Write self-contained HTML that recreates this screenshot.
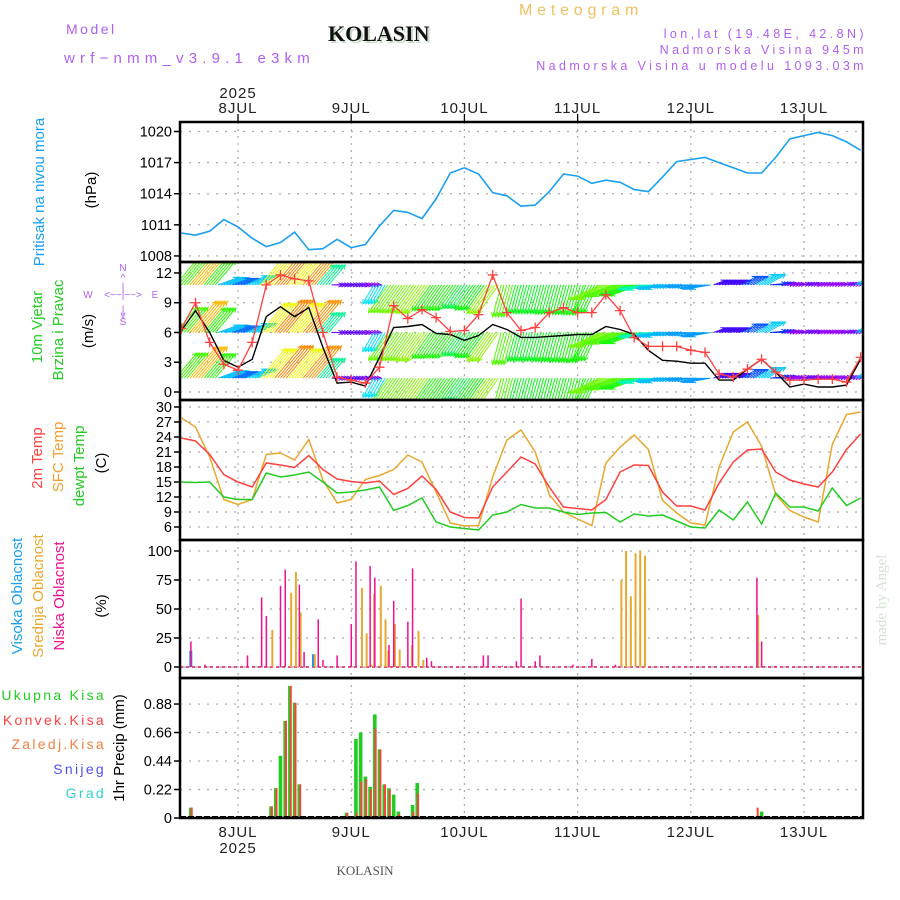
<!DOCTYPE html>
<html><head><meta charset="utf-8"><style>
html,body{margin:0;padding:0;background:#fff;}
svg{display:block;font-family:"Liberation Sans",sans-serif;}
</style></head><body>
<svg id="chart" width="900" height="900" viewBox="0 0 900 900" xmlns="http://www.w3.org/2000/svg">
<g>
<text x="66" y="34" letter-spacing="2.5" font-size="14" fill="#b060f0">Model</text>
<text x="64" y="63" letter-spacing="5.2" font-size="15" fill="#b060f0">wrf−nmm_v3.9.1 e3km</text>
<text x="330" y="43" font-family="Liberation Serif,serif" font-weight="bold" font-size="22" fill="#c8d8c8">KOLASIN</text>
<text x="328" y="41" font-family="Liberation Serif,serif" font-weight="bold" font-size="22" fill="#111">KOLASIN</text>
<text x="519" y="15" letter-spacing="4.8" font-size="16" fill="#f0c060">Meteogram</text>
<text x="867" y="38" text-anchor="end" letter-spacing="3.4" font-size="12.5" fill="#b060f0">lon,lat (19.48E, 42.8N)</text>
<text x="867" y="54" text-anchor="end" letter-spacing="3.4" font-size="12.5" fill="#b060f0">Nadmorska Visina 945m</text>
<text x="867" y="70" text-anchor="end" letter-spacing="3.4" font-size="12.5" fill="#b060f0">Nadmorska Visina u modelu 1093.03m</text>
</g>
<g font-size="15">
<text transform="translate(44,192) rotate(-90)" text-anchor="middle" fill="#1aa0f0">Pritisak na nivou mora</text>
<text transform="translate(96,190) rotate(-90)" text-anchor="middle" fill="#000">(hPa)</text>
<text transform="translate(42,327) rotate(-90)" text-anchor="middle" fill="#22cc22">10m Vjetar</text>
<text transform="translate(63,330) rotate(-90)" text-anchor="middle" fill="#22cc22">Brzina i Pravac</text>
<text transform="translate(93,331) rotate(-90)" text-anchor="middle" fill="#000">(m/s)</text>
<g font-size="10" fill="#b060f0" text-anchor="middle">
<text x="88" y="298">W</text><text x="123" y="298">&lt;−−|−−&gt;</text><text x="155" y="298">E</text>
<text x="123" y="271">N</text><text x="123" y="281">^</text><text x="123" y="290">|</text><text x="123" y="313">|</text><text x="123" y="318">v</text><text x="123" y="325">S</text>
</g>
<text transform="translate(42,458) rotate(-90)" text-anchor="middle" fill="#ff4040">2m Temp</text>
<text transform="translate(63,457) rotate(-90)" text-anchor="middle" fill="#f0a030">SFC Temp</text>
<text transform="translate(84,466) rotate(-90)" text-anchor="middle" fill="#22cc22">dewpt Temp</text>
<text transform="translate(106,463) rotate(-90)" text-anchor="middle" fill="#000">(C)</text>
<text transform="translate(22,596) rotate(-90)" text-anchor="middle" fill="#1aa0f0">Visoka Oblacnost</text>
<text transform="translate(43,596) rotate(-90)" text-anchor="middle" fill="#e8a830">Srednja Oblacnost</text>
<text transform="translate(64,596) rotate(-90)" text-anchor="middle" fill="#ee1090">Niska Oblacnost</text>
<text transform="translate(106,606) rotate(-90)" text-anchor="middle" fill="#000">(%)</text>
<g text-anchor="end" letter-spacing="2.3" font-size="14">
<text x="106" y="700" fill="#22cc22">Ukupna Kisa</text>
<text x="106" y="725" fill="#ff4040">Konvek.Kisa</text>
<text x="106" y="749" fill="#f08040">Zaledj.Kisa</text>
<text x="106" y="774" fill="#5050f0">Snijeg</text>
<text x="106" y="798" fill="#30d0d0">Grad</text>
</g>
<text transform="translate(124,748) rotate(-90)" text-anchor="middle" fill="#000">1hr Precip (mm)</text>
</g>
<text transform="translate(886,600) rotate(-90)" text-anchor="middle" font-family="Liberation Serif,serif" font-size="15" fill="#d4e2d4">made by Angel</text>
<text x="365" y="875" text-anchor="middle" font-family="Liberation Serif,serif" font-size="13" fill="#555">KOLASIN</text>
<g id="plots"></g>
</svg>
<script>
// ---- data (hours from 8 JUL 00 UTC) ----
const dayHours = [0, 24, 48, 72, 96, 120];
const dayLabels = ["8JUL", "9JUL", "10JUL", "11JUL", "12JUL", "13JUL"];
const hours3 = Array.from({length: 49}, (_, i) => -12 + 3 * i);
const pressure = [1010.2,1010.0,1010.4,1011.5,1010.8,1009.7,1008.9,1009.3,1010.3,1008.6,1008.7,1009.6,1008.8,1009.1,1010.9,1012.4,1012.2,1011.6,1013.5,1016.0,1016.5,1015.9,1014.1,1013.8,1012.8,1012.9,1014.2,1015.9,1015.7,1015.0,1015.3,1015.1,1014.4,1014.2,1015.6,1017.1,1017.3,1017.5,1017.0,1016.5,1016.0,1016.0,1017.5,1019.3,1019.6,1019.9,1019.6,1019.0,1018.2];
const windSpeed = [6.2,8.2,6,3.2,2.5,3.3,7.6,8.6,7.6,8.5,4.5,0.9,1.0,0.6,3.5,6.5,6.6,6.8,5.9,5.8,5.2,5.7,6.8,6.3,5.5,5.5,5.6,5.7,5.8,5.8,6.6,6.3,5.8,4.2,3.2,3.1,2.9,2.9,1.2,1.2,2.3,3.3,2.0,0.5,0.8,0.5,0.5,0.7,3.3];
const windGust = [6.4,9,5,2.8,2.2,5,10.8,11.8,11.4,11.2,6,1.5,1.2,0.9,2.5,8.7,7.4,8.3,7.5,6.1,6.2,7.8,11.8,8,6.2,6.5,8,8.5,8,8,9.8,8.2,5.5,4.6,4.6,4.6,4.2,4,1.8,1.5,2.3,3.3,2,1.2,1.2,1.3,1.3,1.0,3.5];
const windDir = [50,50,50,20,20,25,50,50,50,50,50,0,0,0,-120,-125,-125,-125,-125,-125,-125,-125,-125,-105,-105,-105,-105,-105,-105,-115,-155,-160,-160,-170,-170,-175,-175,-170,20,20,30,30,5,5,5,5,5,5,30];
const temp2m = [23.8,23.2,20.5,16.5,15,14,18.8,18.4,17.9,20.3,17.5,15.6,15.1,14.8,15.2,12.5,13.7,16.2,13.5,9,7.9,7.8,14,17,20,18.6,14,10,9.7,9.4,11.5,17,18.4,18.3,13,10.2,10.2,9.4,14.8,19,21.4,21.6,17,15.4,14.6,14,17,21.5,24.6];
const tempSfc = [27.8,26,20,11.5,10.5,11.5,20.5,20.8,19.4,23.5,15.4,10.8,11.5,15.5,16.3,17.5,20.4,19,13,6.8,6.2,6.3,16,23.4,25.4,21,12.5,9,7.6,6.3,18.8,22,24.4,21.5,11.3,8.8,6.8,6.4,18,25,27,22.2,12.5,9.3,8,7,22.5,28.5,29];
const dewpt = [15,14.9,15,12,11.5,11.5,16.8,16,16.4,17,15,12.8,13,13.4,14,9.3,10.3,11.8,7,6,5.7,5.4,8.4,9,10.5,9.8,9.8,9,8.5,8.8,8.9,7,8.6,8.2,8.4,7.2,6,5.8,9.4,7.4,11,6.6,12.8,10,10,9.2,13.8,10.3,11.8];
const lowCloudHours = [-10,-7,2,5,6,9,10,13,14,17,18,21,24,25,28,29,32,33,36,37,40,41,52,53,56,59,60,63,64,71,75,80,110,111,114];
const lowCloud = [22,2,10,60,44,70,84,71,13,41,6,10,37,91,87,77,19,57,39,85,8,5,10,10,1,5,59,5,10,2,7,2,77,22,1];
const midCloudHours = [7,11,12,13,16,26,27,28,28.6,30,31,31.6,33,34,36.6,38,39,81,82,83,84,85,86,110];
const midCloud = [32,64,82,47,11,68,29,2,63,70,41,14,37,15,19,31,6,75,100,61,98,100,96,45];
const highCloudHours = [-10,16];
const highCloud = [14,11];
const precipHours = [-10,7,8,9,10,11,12,13,16,23,25,26,27,28,29,30,31,32,33,34,37,38,110,111];
const precipTotal = [0.08,0.09,0.23,0.48,0.75,1.02,0.89,0.26,0.01,0.04,0.61,0.66,0.32,0.24,0.80,0.53,0.26,0.23,0.18,0.05,0.10,0.27,0.0,0.05];
const precipConv = [0.08,0.09,0.23,0.0,0.75,1.02,0.89,0.26,0.0,0.04,0.04,0.28,0.30,0.22,0.69,0.53,0.26,0.22,0.0,0.03,0.05,0.19,0.08,0.0];
const pTicks = [1008,1011,1014,1017,1020];
const wTicks = [0,3,6,9,12];
const tTicks = [6,9,12,15,18,21,24,27,30];
const cTicks = [0,25,50,75,100];
const prTicks = [0,0.22,0.44,0.66,0.88];
const prTickLabels = ["0","0.22","0.44","0.66","0.88"];

// ---- layout ----
const X0 = 180, X1 = 863;
const NS = "http://www.w3.org/2000/svg";
const root = document.getElementById('plots');
const xT = h => 238 + h * 4.717;
const yP = p => 131.5 + (1020 - p) * 10.37;
const yW = v => 392 - v * 9.92;
const yTm = t => 527 - (t - 6) * 5;
const yC = c => 667 - c * 1.16;
const yPr = m => 818 - m * 129.5;
const panels = [
  {name:'pressure', top:122, bot:262, y:yP, ticks:pTicks, labels:pTicks.map(String)},
  {name:'wind', top:262, bot:400, y:yW, ticks:wTicks, labels:wTicks.map(String)},
  {name:'temperature', top:400, bot:540, y:yTm, ticks:tTicks, labels:tTicks.map(String)},
  {name:'cloud', top:540, bot:678, y:yC, ticks:cTicks, labels:cTicks.map(String)},
  {name:'precip', top:678, bot:818, y:yPr, ticks:prTicks, labels:prTickLabels}
];
function mk(tag, attrs, parent) {
  const e = document.createElementNS(NS, tag);
  for (const k in attrs) e.setAttribute(k, attrs[k]);
  (parent || root).appendChild(e);
  return e;
}
const defs = mk('defs', {});
panels.forEach(p => {
  const cp = mk('clipPath', {id: 'clip-' + p.name}, defs);
  mk('rect', {x: X0, y: p.top, width: X1 - X0, height: p.bot - p.top}, cp);
});

panels.forEach(p => {
  const g = mk('g', {});
  
  
  p.ticks.forEach((t, i) => {
    const y = p.y(t);
    mk('line', {x1: X0, x2: X1, y1: y, y2: y, stroke: '#aaa', 'stroke-width': 1.2, 'stroke-dasharray': '2 7'}, g);
    mk('line', {x1: X0 - 6, x2: X0, y1: y, y2: y, stroke: '#000', 'stroke-width': 1.5}, g);
    const tx = mk('text', {x: X0 - 8, y: y + 5, 'text-anchor': 'end', 'font-size': 14.5, fill: '#000'}, g);
    tx.textContent = p.labels[i];
    
    
  });
  dayHours.forEach(h => {
    mk('line', {x1: xT(h), x2: xT(h), y1: p.top, y2: p.bot, stroke: '#aaa', 'stroke-width': 1.2, 'stroke-dasharray': '2 5'}, g);
  });
});

const topAx = mk('g', {});


dayHours.forEach((h, i) => {
  mk('line', {x1: xT(h), x2: xT(h), y1: 114, y2: 122, stroke: '#000', 'stroke-width': 1.3}, topAx);
  const t1 = mk('text', {x: xT(h), y: 113, 'text-anchor': 'middle', 'font-size': 15, fill: '#222', 'letter-spacing': '1'}, topAx);
  t1.textContent = dayLabels[i];
  
  
  const t2 = mk('text', {x: xT(h), y: 837, 'text-anchor': 'middle', 'font-size': 15, fill: '#222', 'letter-spacing': '1'}, topAx);
  t2.textContent = dayLabels[i];
  
  
});
const y1 = mk('text', {x: xT(0), y: 98, 'text-anchor': 'middle', 'font-size': 15, fill: '#222', 'letter-spacing': '1'}, topAx);
y1.textContent = '2025';


const y2 = mk('text', {x: xT(0), y: 853, 'text-anchor': 'middle', 'font-size': 15, fill: '#222', 'letter-spacing': '1'}, topAx);
y2.textContent = '2025';



function linePath(xs, ys, yf) {
  return xs.map((h, i) => (i ? 'L' : 'M') + xT(h).toFixed(1) + ',' + yf(ys[i]).toFixed(1)).join('');
}
const pl = mk('path', {d: linePath(hours3, pressure, yP), fill: 'none', stroke: '#1aa0f0', 'stroke-width': 1.6, 'clip-path': 'url(#clip-pressure)'});



function hueFor(v) { return Math.max(0, Math.min(290, 290 - v * 30)); }
const wg = mk('g', {'clip-path': 'url(#clip-wind)'});


const rowBase = [1.4, 6.0, 10.8];
rowBase.forEach(b => {
  hours3.forEach((h, i) => {
    const v = windSpeed[i];
    const L = 8 + 4 * v;
    const a = windDir[i] * Math.PI / 180;
    const col = 'hsl(' + hueFor(v) + ',95%,50%)';
    [-1.2, -0.6, 0, 0.6, 1.2].forEach(o => {
      const x0 = xT(h + o), y0 = yW(b);
      const x1 = x0 + L * Math.cos(a), y1 = y0 - L * Math.sin(a);
      const hl = 5, ha = 0.45;
      const back = Math.atan2(y0 - y1, x0 - x1);
      const d = 'M' + x0.toFixed(1) + ',' + y0.toFixed(1) + 'L' + x1.toFixed(1) + ',' + y1.toFixed(1) +
        'M' + (x1 + hl * Math.cos(back + ha)).toFixed(1) + ',' + (y1 + hl * Math.sin(back + ha)).toFixed(1) + 'L' + x1.toFixed(1) + ',' + y1.toFixed(1) +
        'L' + (x1 + hl * Math.cos(back - ha)).toFixed(1) + ',' + (y1 + hl * Math.sin(back - ha)).toFixed(1);
      const ar = mk('path', {d: d, stroke: col, 'stroke-width': 1, fill: 'none'}, wg);
      
      
    });
  });
});
const ws = mk('path', {d: linePath(hours3, windSpeed, yW), fill: 'none', stroke: '#000', 'stroke-width': 1.4, 'clip-path': 'url(#clip-wind)'});


const gg = mk('g', {'clip-path': 'url(#clip-wind)'});


const gl = mk('path', {d: linePath(hours3, windGust, yW), fill: 'none', stroke: '#ff4040', 'stroke-width': 1.3}, gg);


hours3.forEach((h, i) => {
  const x = xT(h), y = yW(windGust[i]);
  const m = mk('path', {d: 'M' + (x - 5) + ',' + y + 'H' + (x + 5) + 'M' + x + ',' + (y - 5) + 'V' + (y + 5), stroke: '#ff4040', 'stroke-width': 1.3}, gg);
  
  
});

[[tempSfc, '#e8a830', 'sfc-temp-line'], [temp2m, '#ff4040', 'temp-2m-line'], [dewpt, '#22cc22', 'dewpoint-line']].forEach(s => {
  const l = mk('path', {d: linePath(hours3, s[0], yTm), fill: 'none', stroke: s[1], 'stroke-width': 1.5, 'clip-path': 'url(#clip-temperature)'});
  
  
});

const zc = mk('line', {x1: X0, x2: X1, y1: yC(0), y2: yC(0), stroke: '#e0508a', 'stroke-width': 2, 'stroke-dasharray': '3 3'});


mk('line', {x1: X0 + 3, x2: X1, y1: yC(0), y2: yC(0), stroke: '#c8c8c8', 'stroke-width': 2, 'stroke-dasharray': '3 9'});
highCloudHours.forEach((h, i) => {
  const b = mk('rect', {x: xT(h) - 1.5, y: yC(highCloud[i]), width: 3, height: yC(0) - yC(highCloud[i]), fill: '#1a90e8'});
  
  
});
midCloudHours.forEach((h, i) => {
  const b = mk('rect', {x: xT(h) + 0.3, y: yC(midCloud[i]), width: 2, height: yC(0) - yC(midCloud[i]), fill: '#e8a830'});
  
  
});
lowCloudHours.forEach((h, i) => {
  const b = mk('rect', {x: xT(h) - 0.7, y: yC(lowCloud[i]), width: 1.5, height: yC(0) - yC(lowCloud[i]), fill: '#ee1090'});
  
  
});

precipHours.forEach((h, i) => {
  if (precipTotal[i] > 0) {
    const b = mk('rect', {x: xT(h) - 1.8, y: yPr(precipTotal[i]), width: 3.6, height: yPr(0) - yPr(precipTotal[i]), fill: '#22cc22'});
    
    
  }
  if (precipConv[i] > 0) {
    const c = mk('rect', {x: xT(h) - 0.2, y: yPr(precipConv[i]), width: 2, height: yPr(0) - yPr(precipConv[i]), fill: '#ff4040'});
    
    
  }
});
const zp = mk('line', {x1: X0, x2: X1, y1: yPr(0) - 1, y2: yPr(0) - 1, stroke: '#000', 'stroke-width': 2, 'stroke-dasharray': '6 2'});



panels.forEach(p => {
  const f = mk('rect', {x: X0, y: p.top, width: X1 - X0, height: p.bot - p.top, fill: 'none', stroke: '#000', 'stroke-width': 2.5});
  
  
});
</script>
</body></html>
